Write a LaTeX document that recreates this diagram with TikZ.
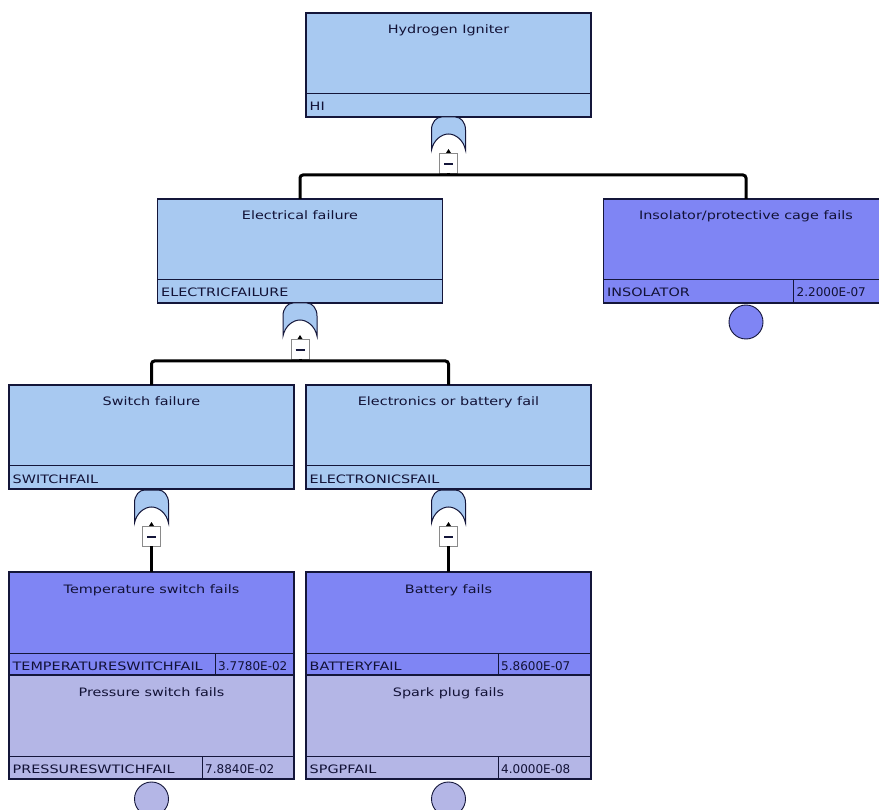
\documentclass[tikz,border=0pt]{standalone}
\usepackage{fontspec}
\setmainfont[FakeStretch=1.24]{DejaVu Sans}
\newfontfamily\valfont{DejaVu Sans}

\definecolor{gatefill}{HTML}{A8C9F1}
\definecolor{basicfill}{HTML}{7F85F4}
\definecolor{lavfill}{HTML}{B4B6E6}
\definecolor{edge}{HTML}{14163A}
\definecolor{ink}{HTML}{121236}
\definecolor{tabgray}{HTML}{8A8A8A}

\tikzset{
  boxbody/.style={draw=edge, line width=1.3pt, minimum width=285pt, minimum height=104pt,
    inner sep=0pt, outer sep=0pt},
  titletext/.style={anchor=base, inner sep=0pt, text=ink, font=\fontsize{11.6}{13}\selectfont},
  idtext/.style={anchor=base west, inner sep=0pt, text=ink, font=\fontsize{11.6}{13}\selectfont},
  valtext/.style={anchor=base west, inner sep=0pt, text=ink, font=\valfont\fontsize{12}{13}\selectfont},
  rule/.style={draw=edge, line width=1pt},
  link/.style={draw=black, line width=3pt},
  minusbox/.style={draw=tabgray, fill=white, line width=0.9pt, minimum width=18pt,
    minimum height=20pt, inner sep=0pt, outer sep=0pt},
  eventdisc/.style={circle, draw=edge, line width=0.9pt, minimum size=34pt, inner sep=0pt},
}

% event box: name, centre x, top y, fill, title, identifier
\newcommand{\ftbox}[6]{%
  \node[boxbody, fill=#4] (#1) at (#2,#3+52) {};
  \draw[rule] (#2-142.5,#3+81) -- (#2+142.5,#3+81);
  \draw[edge, line width=2.4pt] (#2-142.5,#3+104) -- (#2+142.5,#3+104);
  \node[titletext] (#1-title) at (#2,#3+21) {#5};
  \node[idtext] (#1-id) at (#2-139,#3+98) {#6};
}
% probability cell: name, centre x, top y, cell width, value
\newcommand{\ftvalue}[5]{%
  \draw[rule] (#2+142.5-#4,#3+81) -- (#2+142.5-#4,#3+104);
  \node[valtext] (#1-val) at (#2+145.5-#4,#3+98) {#5};
}
% OR gate hanging under a box: name, centre x, box bottom y
\newcommand{\ftgate}[3]{%
  \filldraw[fill=gatefill, draw=edge, line width=1pt]
    (#2-17,#3+33) -- (#2-17,#3+13) .. controls (#2-17,#3+5) and (#2-12,#3) .. (#2-7,#3)
    -- (#2+7,#3) .. controls (#2+12,#3) and (#2+17,#3+5) .. (#2+17,#3+13) -- (#2+17,#3+33)
    .. controls (#2+15,#3+23) and (#2+7,#3+17) .. (#2,#3+17)
    .. controls (#2-7,#3+17) and (#2-15,#3+23) .. (#2-17,#3+33) -- cycle;
  \node[minusbox] (#1) at (#2,#3+46) {};
  \draw[edge, line width=1.2pt] (#2-4.5,#3+47) -- (#2+4.5,#3+47);
  \fill[black] (#2-2.5,#3+36) -- (#2+2.5,#3+36) -- (#2,#3+32) -- cycle;
}

\begin{document}
\begin{tikzpicture}[x=1pt, y=-1pt]
  \useasboundingbox (0,0) rectangle (879,810);
  \clip (0,0) rectangle (879,810);
  \fill[white] (0,0) rectangle (879,810);

  % top event and its gate
  \ftbox{hi}{448.5}{13}{gatefill}{Hydrogen Igniter}{HI}
  \ftgate{hig}{448.5}{117}
  \coordinate (hibar) at (448.5,175);

  % second level
  \ftbox{ef}{300}{199}{gatefill}{Electrical failure}{ELECTRICFAILURE}
  \ftgate{efg}{300}{303}
  \coordinate (efbar) at (300,361);

  \ftbox{ins}{746}{199}{basicfill}{Insolator/protective cage fails}{INSOLATOR}
  \ftvalue{ins}{746}{199}{95}{2.2000E-07}
  \node[eventdisc, fill=basicfill] (insc) at (746,322) {};

  % third level
  \ftbox{sw}{151.5}{385}{gatefill}{Switch failure}{SWITCHFAIL}
  \ftgate{swg}{151.5}{490}

  \ftbox{el}{448.5}{385}{gatefill}{Electronics or battery fail}{ELECTRONICSFAIL}
  \ftgate{elg}{448.5}{490}

  % basic events under the switch gate
  \ftbox{tmp}{151.5}{572}{basicfill}{Temperature switch fails}{TEMPERATURESWITCHFAIL}
  \ftvalue{tmp}{151.5}{572}{79}{3.7780E-02}
  \ftbox{prs}{151.5}{675}{lavfill}{Pressure switch fails}{PRESSURESWTICHFAIL}
  \ftvalue{prs}{151.5}{675}{92}{7.8840E-02}
  \node[eventdisc, fill=lavfill] (prsc) at (151.5,799) {};

  % basic events under the electronics gate
  \ftbox{bat}{448.5}{572}{basicfill}{Battery fails}{BATTERYFAIL}
  \ftvalue{bat}{448.5}{572}{93}{5.8600E-07}
  \ftbox{spk}{448.5}{675}{lavfill}{Spark plug fails}{SPGPFAIL}
  \ftvalue{spk}{448.5}{675}{93}{4.0000E-08}
  \node[eventdisc, fill=lavfill] (spkc) at (448.5,799) {};

  % connectors
  \draw[link] (hig.south) -- (hibar);
  \draw[link, rounded corners=3pt] (ef.north) |- (hibar) -| (ins.north);
  \draw[link] (efg.south) -- (efbar);
  \draw[link, rounded corners=3pt] (sw.north) |- (efbar) -| (el.north);
  \draw[link] (swg.south) -- (tmp.north);
  \draw[link] (elg.south) -- (bat.north);
\end{tikzpicture}
\end{document}
